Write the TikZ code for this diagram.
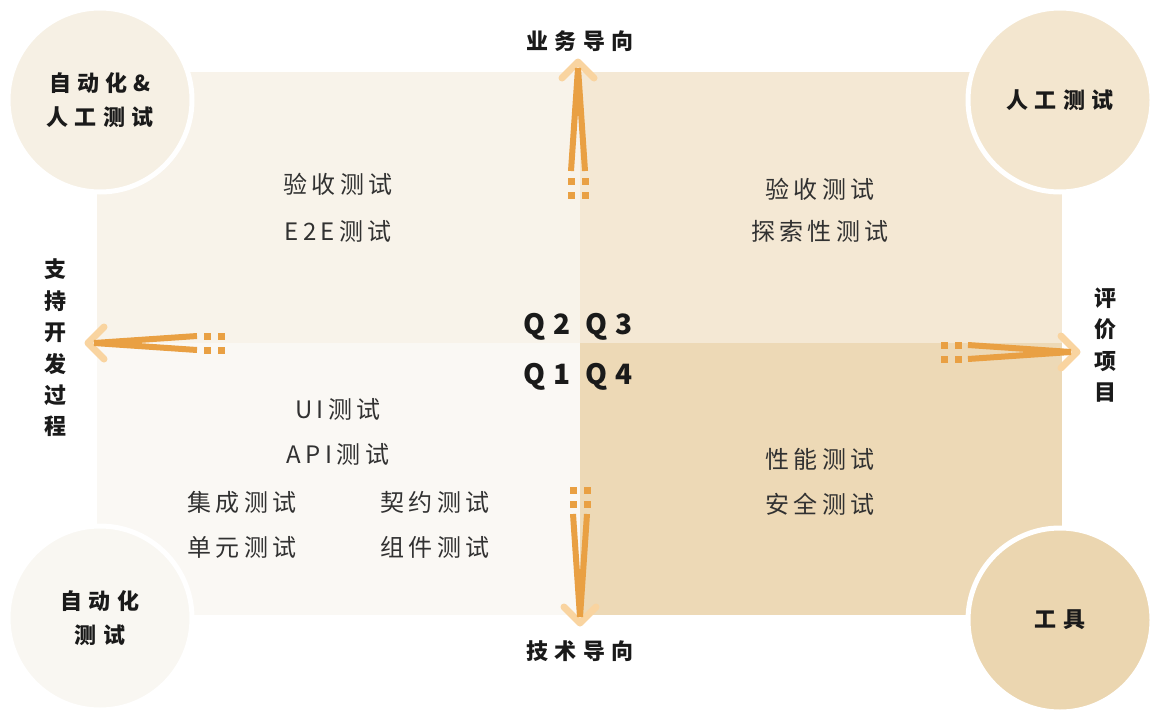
\documentclass[tikz,border=0pt]{standalone}
\usepackage{fontspec}
\setmainfont{Noto Sans CJK SC}[LetterSpace=18]
\newfontfamily\strongfont{Noto Sans CJK SC}[LetterSpace=28]
\usepackage{xcolor}
\usepackage{tikz}
\usetikzlibrary{positioning}

\definecolor{qone}{HTML}{FAF8F4}
\definecolor{qtwo}{HTML}{F8F3EA}
\definecolor{qthree}{HTML}{F4E8D4}
\definecolor{qfour}{HTML}{EDD9B6}
\definecolor{ctl}{HTML}{F6F0E4}
\definecolor{ctr}{HTML}{F3E6CF}
\definecolor{cbl}{HTML}{F9F7F2}
\definecolor{cbr}{HTML}{EBD6B0}
\definecolor{flow}{HTML}{E9A043}
\definecolor{flowlight}{HTML}{F9D4A0}
\definecolor{ink}{HTML}{1A1A1A}

\begin{document}
\begin{tikzpicture}[
  x=1pt, y=-1pt,
  ring/.style  = {circle, draw=white, line width=5pt, minimum size=184pt, inner sep=0pt,
                  align=center, text=ink, font=\strongfont\bfseries\fontsize{22}{34}\selectfont},
  txt/.style   = {inner sep=0pt, text height=18pt, text depth=5pt, text=ink!90,
                  font=\fontsize{24}{28}\selectfont},
  axis/.style  = {inner sep=0pt, align=center, text=ink,
                  font=\strongfont\bfseries\fontsize{22}{31.4}\selectfont},
  qtag/.style  = {inner sep=0pt, text=ink, font=\strongfont\bfseries\fontsize{28}{28}\selectfont},
  shaft/.style = {draw=flow, line width=6pt},
  chev/.style  = {draw=flowlight, line width=7pt, line cap=round, line join=round},
  flow/.pic    = {
    \draw[chev] (-16,-16) -- (0,0) -- (-16,16);
    \draw[shaft] (-109,-7) -- (-6,0);
    \draw[shaft] (-109,7) -- (-6,0);
    \foreach \u in {-119,-133}
      \foreach \v in {-7,7}
        \fill[flow] (\u-3.5,\v-3.5) rectangle ++(7,7);
  }
]
\useasboundingbox (0,0) rectangle (1161,720);
\fill[white] (0,0) rectangle (1161,720);

% quadrants
\fill[qtwo]   (97,72)   rectangle (580,343);
\fill[qthree] (580,72)  rectangle (1062,343);
\fill[qone]   (97,343)  rectangle (580,615);
\fill[qfour]  (580,343) rectangle (1062,615);

% corner circles
\node[ring, fill=ctl] (automan) at (100,100)  {自动化\&\\人工测试};
\node[ring, fill=ctr] (manual)  at (1060,100) {人工测试};
\node[ring, fill=cbl] (auto)    at (100,618)  {自动化\\测试};
\node[ring, fill=cbr] (tools)   at (1060,620) {工具};

% axis arrows
\coordinate (tipU) at (578,62);
\coordinate (tipD) at (580,623);
\coordinate (tipL) at (88,343);
\coordinate (tipR) at (1077,352);
\pic[rotate=90]  at (tipU) {flow};
\pic[rotate=-90] at (tipD) {flow};
\pic[rotate=180] at (tipL) {flow};
\pic             at (tipR) {flow};

% axis labels
\node[axis] (biz)  at (580,41)   {业务导向};
\node[axis] (tech) at (580,651)  {技术导向};
\node[axis] (dev)  at (55,348)   {支\\持\\开\\发\\过\\程};
\node[axis] (eval) at (1105,345) {评\\价\\项\\目};

% quadrant tags
\node[qtag] (q2) at (547,327) {Q2};
\node[qtag] (q3) at (609,327) {Q3};
\node[qtag] (q1) at (547,377) {Q1};
\node[qtag] (q4) at (609,377) {Q4};

% Q2
\node[txt] (acc2) at (338,187) {验收测试};
\node[txt, below=24pt of acc2] (e2e) {E2E测试};
% Q3
\node[txt] (acc3) at (820,192) {验收测试};
\node[txt, below=19pt of acc3] (explore) {探索性测试};
% Q1
\node[txt] (ui) at (338,412) {UI测试};
\node[txt, below=22pt of ui] (api) {API测试};
\node[txt] (integ) at (242,505) {集成测试};
\node[txt, below=22pt of integ] (unit) {单元测试};
\node[txt] (contract) at (435,505) {契约测试};
\node[txt, below=22pt of contract] (comp) {组件测试};
% Q4
\node[txt] (perf) at (820,462) {性能测试};
\node[txt, below=22pt of perf] (sec) {安全测试};
\end{tikzpicture}
\end{document}
